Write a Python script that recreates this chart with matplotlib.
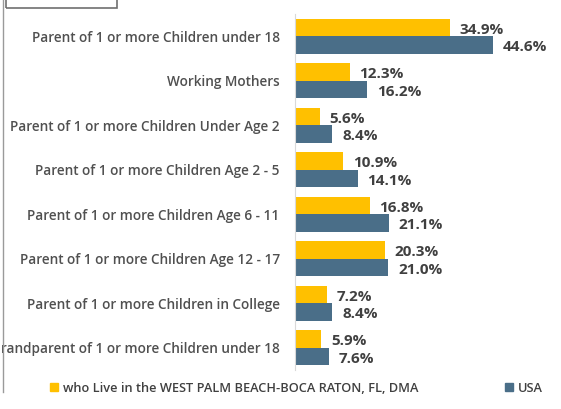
import matplotlib.pyplot as plt
import matplotlib.patches as mpatches
import matplotlib.lines as mlines
import numpy as np

plt.rcParams['font.family'] = ['Open Sans', 'DejaVu Sans']

categories = [
    'Parent of 1 or more Children under 18',
    'Working Mothers',
    'Parent of 1 or more Children Under Age 2',
    'Parent of 1 or more Children Age 2 - 5',
    'Parent of 1 or more Children Age 6 - 11',
    'Parent of 1 or more Children Age 12 - 17',
    'Parent of 1 or more Children in College',
    'Grandparent of 1 or more Children under 18',
]
local_vals = [34.9, 12.3, 5.6, 10.9, 16.8, 20.3, 7.2, 5.9]
usa_vals = [44.6, 16.2, 8.4, 14.1, 21.1, 21.0, 8.4, 7.6]
series_names = ['who Live in the WEST PALM BEACH-BOCA RATON, FL, DMA', 'USA']

yellow = '#FFC000'
blue = '#4A6E88'
txt = '#404040'

W, H = 561, 409
fig = plt.figure(figsize=(W / 100, H / 100), dpi=100)
x0, x1, ytop, ybot = 295, 545, 14, 370
ax = fig.add_axes([x0 / W, 1 - ybot / H, (x1 - x0) / W, (ybot - ytop) / H])

y = np.arange(len(categories))
h = 0.39
ax.barh(y - h / 2, local_vals, height=h, color=yellow)
ax.barh(y + h / 2, usa_vals, height=h, color=blue)

for yi, v in zip(y, local_vals):
    ax.annotate(f'{v:.1f}%', (v, yi - h / 2 + 0.05), xytext=(7, 0), textcoords='offset points',
                ha='left', va='center', fontsize=11, fontweight='bold', color=txt)
for yi, v in zip(y, usa_vals):
    ax.annotate(f'{v:.1f}%', (v, yi + h / 2 + 0.05), xytext=(7, 0), textcoords='offset points',
                ha='left', va='center', fontsize=11, fontweight='bold', color=txt)

ax.set_xlim(0, (x1 - x0) / 4.44)
ax.set_ylim(len(categories) - 0.5, -0.5)
ax.set_yticks(y)
ax.set_yticklabels(categories, fontsize=9.8, color='#505050', fontweight='semibold')
ax.tick_params(axis='y', length=0, pad=11)
ax.set_xticks([])
for s in ['top', 'right', 'bottom']:
    ax.spines[s].set_visible(False)
ax.spines['left'].set_color('#D9D9D9')

ly = 1 - 388 / H
legkw = dict(loc='center left', frameon=False, handlelength=0.6, handleheight=0.6,
             handletextpad=0.4, borderpad=0, borderaxespad=0,
             prop={'size': 9.2, 'weight': 'semibold'})
leg1 = fig.legend([mpatches.Patch(color=yellow)], [series_names[0]],
                  bbox_to_anchor=(50 / W, ly), **legkw)
leg2 = fig.legend([mpatches.Patch(color=blue)], [series_names[1]],
                  bbox_to_anchor=(505 / W, ly), **legkw)
for leg in (leg1, leg2):
    for t in leg.get_texts():
        t.set_color(txt)

# frame remnants of the original slide
fig.add_artist(mlines.Line2D([3 / W, 3 / W], [1 - 392 / H, 1], color='#9A9A9A', lw=1))
fig.add_artist(mpatches.Rectangle((6 / W, 1 - 8 / H), 111 / W, 20 / H, fill=False,
                                  edgecolor='#707070', lw=1.2))

fig.savefig('out.png', dpi=100)
